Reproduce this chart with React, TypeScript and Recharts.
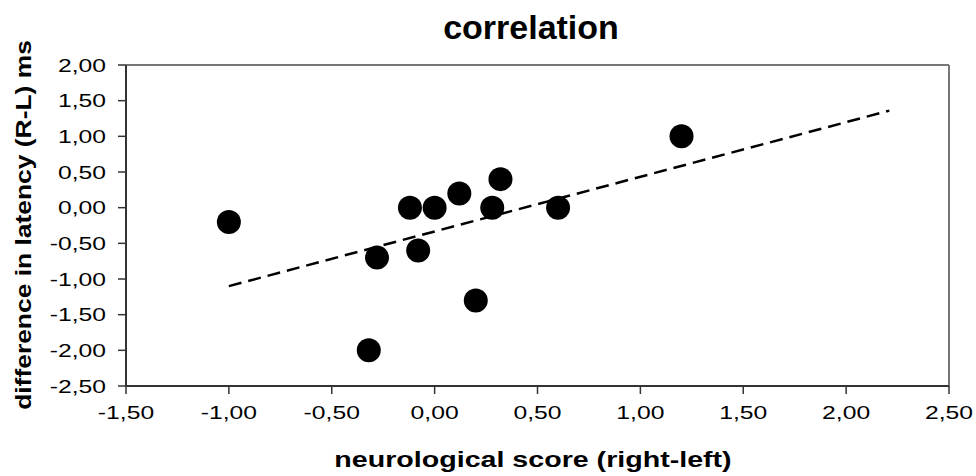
import React from "react"
import {
  ScatterChart,
  Scatter,
  XAxis,
  YAxis,
  ReferenceLine,
} from "recharts"

// neurological score (right-left)
const scoreX = [-1.0, -0.28, -0.32, -0.12, 0.0, -0.08, 0.12, 0.28, 0.32, 0.2, 0.6, 1.2]
// difference in latency (R-L) ms
const latencyY = [-0.2, -0.7, -2.0, 0.0, 0.0, -0.6, 0.2, 0.0, 0.4, -1.3, 0.0, 1.0]

// dashed trend line ends
const trendX = [-1.0, 2.21]
const trendY = [-1.1, 1.36]

const xTicks = [-1.5, -1.0, -0.5, 0.0, 0.5, 1.0, 1.5, 2.0, 2.5]
const yTicks = [-2.5, -2.0, -1.5, -1.0, -0.5, 0.0, 0.5, 1.0, 1.5, 2.0]

const points = scoreX.map((x, i) => ({ x, y: latencyY[i] }))
const trend = trendX.map((x, i) => ({ x, y: trendY[i] }))

const FONT = "'Liberation Sans', Arial, sans-serif"
const fmt = (v: number) => v.toFixed(2).replace(".", ",")

const XTick = (props: any) => {
  const { x, y, payload } = props
  return (
    <g transform={`translate(${x},${y}) scale(1.3,1)`}>
      <text x={0} y={0} dy="0.71em" textAnchor="middle" fontSize={19} fontFamily={FONT} fill="#000">
        {fmt(payload.value)}
      </text>
    </g>
  )
}

const YTick = (props: any) => {
  const { x, y, payload } = props
  return (
    <g transform={`translate(${x},${y}) scale(1.3,1)`}>
      <text x={0} y={0} dy="0.355em" textAnchor="end" fontSize={19} fontFamily={FONT} fill="#000">
        {fmt(payload.value)}
      </text>
    </g>
  )
}

const Dot = (props: any) => <circle cx={props.cx} cy={props.cy} r={12} fill="#000" />
const NoDot = () => <g />

export default function App() {
  return (
    <div style={{ position: "absolute", left: 0, top: 0, width: 976, height: 476, background: "#fff", fontFamily: FONT }}>
      <div
        style={{
          position: "absolute",
          left: 531,
          top: 10,
          transform: "translateX(-50%)",
          fontSize: 34,
          lineHeight: "34px",
          fontWeight: "bold",
          whiteSpace: "nowrap",
        }}
      >
        correlation
      </div>
      <div
        style={{
          position: "absolute",
          left: 533,
          top: 449,
          transform: "translateX(-50%) scaleX(1.3)",
          fontSize: 22,
          lineHeight: "22px",
          fontWeight: "bold",
          whiteSpace: "nowrap",
        }}
      >
        neurological score (right-left)
      </div>
      <div
        style={{
          position: "absolute",
          left: 24,
          top: 225,
          transform: "translate(-50%, -50%) rotate(-90deg) scaleX(1.2)",
          fontSize: 22,
          lineHeight: "22px",
          fontWeight: "bold",
          whiteSpace: "nowrap",
        }}
      >
        difference in latency (R-L) ms
      </div>
      <ScatterChart
        width={976}
        height={476}
        margin={{ top: 65, right: 27, bottom: 50, left: 36 }}
        style={{ position: "absolute", left: 0, top: 0 }}
      >
        <XAxis
          type="number"
          dataKey="x"
          domain={[-1.5, 2.5]}
          ticks={xTicks}
          interval={0}
          height={40}
          tickSize={8}
          tickMargin={12}
          tick={<XTick />}
          axisLine={{ stroke: "#333", strokeWidth: 2 }}
          tickLine={{ stroke: "#333", strokeWidth: 1.5 }}
          allowDataOverflow
        />
        <YAxis
          type="number"
          dataKey="y"
          domain={[-2.5, 2]}
          ticks={yTicks}
          interval={0}
          width={90}
          tickSize={8}
          tickMargin={12}
          tick={<YTick />}
          axisLine={{ stroke: "#333", strokeWidth: 2 }}
          tickLine={{ stroke: "#333", strokeWidth: 1.5 }}
          allowDataOverflow
        />
        <ReferenceLine y={2} stroke="#777" strokeWidth={2} ifOverflow="visible" />
        <ReferenceLine x={2.5} stroke="#777" strokeWidth={2} ifOverflow="visible" />
        <Scatter
          data={trend}
          line={{ stroke: "#000", strokeWidth: 2.5, strokeDasharray: "13 7" }}
          shape={<NoDot />}
          isAnimationActive={false}
        />
        <Scatter data={points} shape={<Dot />} isAnimationActive={false} />
      </ScatterChart>
    </div>
  )
}
